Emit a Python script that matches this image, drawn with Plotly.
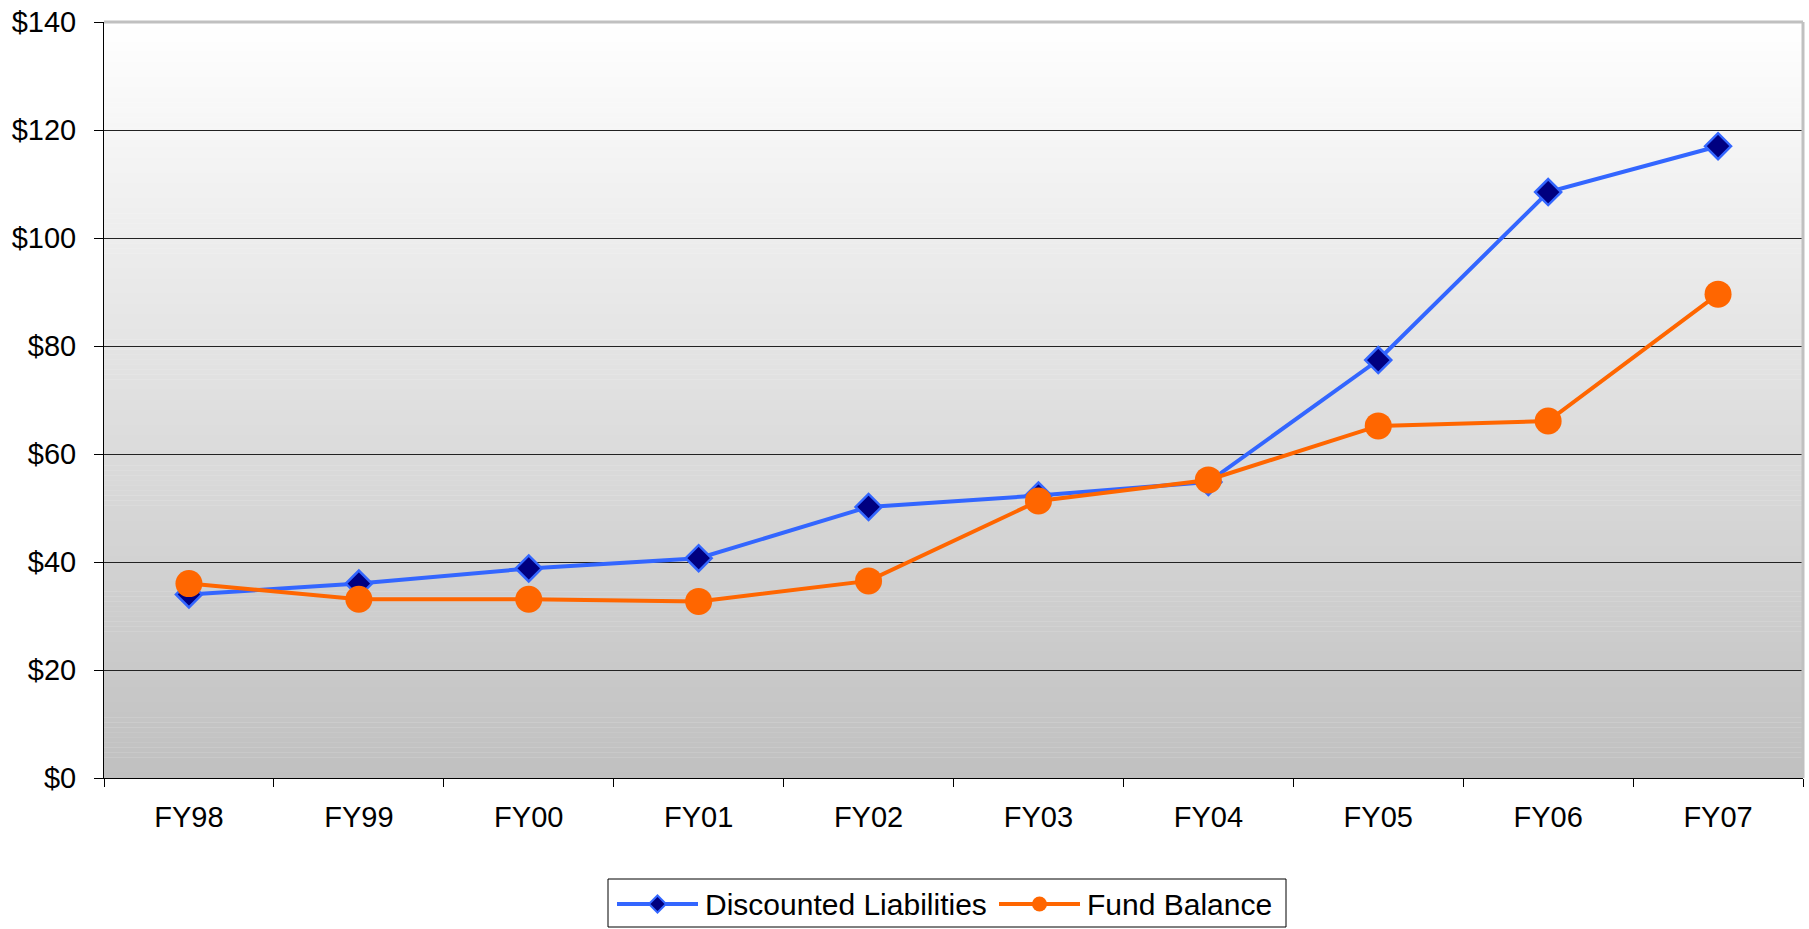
import plotly.graph_objects as go

# Fiscal years and values ($ millions)
years = ["FY98", "FY99", "FY00", "FY01", "FY02", "FY03", "FY04", "FY05", "FY06", "FY07"]
discounted_liabilities = [34.0, 36.0, 38.8, 40.7, 50.2, 52.3, 54.8, 77.4, 108.5, 117.0]
fund_balance = [36.0, 33.1, 33.1, 32.7, 36.5, 51.3, 55.2, 65.2, 66.1, 89.6]
y_ticks = [0, 20, 40, 60, 80, 100, 120, 140]
y_tick_labels = ["$0", "$20", "$40", "$60", "$80", "$100", "$120", "$140"]
series_names = ["Discounted Liabilities", "Fund Balance"]

FONT = "Liberation Sans, Arial, sans-serif"
BLUE, NAVY, ORANGE = "#3366FF", "#000080", "#FF6600"

W, H = 1809, 929
M_L, M_R, M_T, M_B = 104, 6, 22, 151
PLOT_W = W - M_L - M_R
PLOT_H = H - M_T - M_B


def px_x(px):
    """Pixel column -> paper x."""
    return (px - M_L) / PLOT_W


def px_y(py):
    """Pixel row -> paper y."""
    return (H - M_B - py) / PLOT_H


fig = go.Figure()

fig.add_trace(go.Scatter(
    x=years, y=discounted_liabilities, name=series_names[0],
    mode="lines+markers",
    line=dict(color=BLUE, width=4),
    marker=dict(symbol="diamond", size=20, color=NAVY,
                line=dict(color=BLUE, width=2.5)),
))
fig.add_trace(go.Scatter(
    x=years, y=fund_balance, name=series_names[1],
    mode="lines+markers",
    line=dict(color=ORANGE, width=4),
    marker=dict(symbol="circle", size=27, color=ORANGE,
                line=dict(color=ORANGE, width=0)),
))

# Vertical white-to-grey gradient behind the plot area
shapes = []
n_strips = 150
top_rgb, bottom_rgb = (255, 255, 255), (192, 192, 192)
for i in range(n_strips):
    t = (i + 0.5) / n_strips
    c = tuple(round(top_rgb[k] + (bottom_rgb[k] - top_rgb[k]) * t) for k in range(3))
    shapes.append(dict(
        type="rect", xref="paper", yref="paper", layer="below",
        x0=0, x1=1, y0=1 - (i + 1) / n_strips, y1=1 - i / n_strips + 0.0005,
        fillcolor="rgb(%d,%d,%d)" % c, line=dict(width=0),
    ))
# Light grey frame on top and right edges
shapes.append(dict(type="line", xref="paper", yref="paper", x0=0, x1=1, y0=1, y1=1,
                   line=dict(color="#c0c0c0", width=3), layer="above"))
shapes.append(dict(type="line", xref="paper", yref="paper", x0=1, x1=1, y0=0, y1=1,
                   line=dict(color="#c0c0c0", width=3), layer="above"))

# Legend box below the chart, with long line keys and centred markers
annotations = []
shapes.append(dict(type="rect", xref="paper", yref="paper",
                   x0=px_x(608), x1=px_x(1286), y0=px_y(927), y1=px_y(879),
                   fillcolor="white", line=dict(color="black", width=1)))
key_y = 904
legend_items = [
    # (name, line start px, line end px, text start px, marker kind)
    (series_names[0], 617, 698, 704, "diamond"),
    (series_names[1], 999, 1080, 1086, "circle"),
]
for name, lx0, lx1, tx, kind in legend_items:
    color = BLUE if kind == "diamond" else ORANGE
    shapes.append(dict(type="line", xref="paper", yref="paper",
                       x0=px_x(lx0), x1=px_x(lx1), y0=px_y(key_y), y1=px_y(key_y),
                       line=dict(color=color, width=4)))
    cx = (lx0 + lx1) / 2
    if kind == "diamond":
        r = 8.5
        path = "M{},{} L{},{} L{},{} L{},{} Z".format(
            px_x(cx - r), px_y(key_y), px_x(cx), px_y(key_y - r),
            px_x(cx + r), px_y(key_y), px_x(cx), px_y(key_y + r))
        shapes.append(dict(type="path", xref="paper", yref="paper", path=path,
                           fillcolor=NAVY, line=dict(color=BLUE, width=2)))
    else:
        r = 7.5
        shapes.append(dict(type="circle", xref="paper", yref="paper",
                           x0=px_x(cx - r), x1=px_x(cx + r),
                           y0=px_y(key_y + r), y1=px_y(key_y - r),
                           fillcolor=ORANGE, line=dict(color=ORANGE, width=0)))
    annotations.append(dict(text=name, xref="paper", yref="paper",
                            x=px_x(tx), y=px_y(key_y + 1), xanchor="left", yanchor="middle",
                            showarrow=False, borderpad=0,
                            font=dict(family=FONT, size=30, color="black")))

fig.update_layout(
    width=W, height=H,
    margin=dict(l=M_L, r=M_R, t=M_T, b=M_B, autoexpand=False),
    paper_bgcolor="white", plot_bgcolor="white",
    font=dict(family=FONT, size=29, color="black"),
    shapes=shapes,
    annotations=annotations,
    showlegend=False,
)

fig.update_xaxes(
    type="category", range=[-0.5, 9.5],
    tickson="boundaries", ticks="outside", ticklen=8, tickcolor="black",
    showline=True, linecolor="black", linewidth=1,
    showgrid=False, zeroline=False,
    tickfont=dict(family=FONT, size=29, color="black"),
    ticklabelstandoff=13,
)
fig.update_yaxes(
    range=[0, 140], tickmode="array", tickvals=y_ticks, ticktext=y_tick_labels,
    ticks="outside", ticklen=9, tickcolor="black",
    showline=True, linecolor="black", linewidth=1,
    showgrid=True, gridcolor="#222222", gridwidth=1,
    zeroline=False,
    tickfont=dict(family=FONT, size=29, color="black"),
    ticklabelstandoff=12,
)

fig.write_html("out.html")
